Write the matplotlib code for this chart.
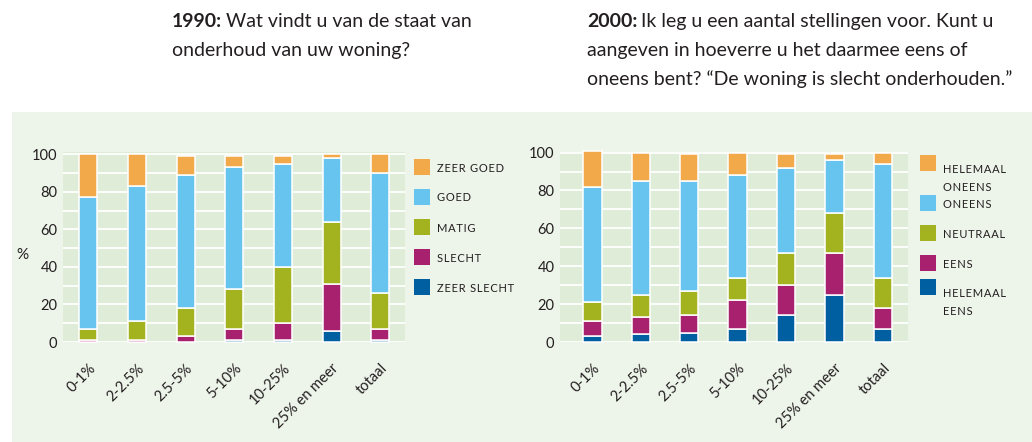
import numpy as np
import matplotlib.pyplot as plt
from matplotlib.patches import Rectangle

plt.rcParams['font.family'] = ['Lato', 'DejaVu Sans']

categories = ['0-1%', '2-2.5%', '2.5-5%', '5-10%', '10-25%', '25% en meer', 'totaal']

# 1990: staat van onderhoud (bottom to top)
zeer_slecht_90 = [0, 0, 0, 1, 1, 6, 1]
slecht_90 = [1, 1, 3, 6, 9, 25, 6]
matig_90 = [6, 10, 15, 21, 30, 33, 19]
goed_90 = [70, 72, 71, 65, 55, 34, 64]
zeer_goed_90 = [23, 17, 10, 6, 4, 2, 10]
labels_90 = ['ZEER GOED', 'GOED', 'MATIG', 'SLECHT', 'ZEER SLECHT']

# 2000: "De woning is slecht onderhouden." (bottom to top)
hel_eens_00 = [3, 4, 5, 7, 14, 25, 7]
eens_00 = [8, 9, 9, 15, 16, 22, 11]
neutraal_00 = [10, 12, 13, 12, 17, 21, 16]
oneens_00 = [61, 60, 58, 54, 45, 28, 60]
hel_oneens_00 = [19, 15, 14, 12, 7, 3, 6]
labels_00 = ['HELEMAAL\nONEENS', 'ONEENS', 'NEUTRAAL', 'EENS', 'HELEMAAL\nEENS']

colors = ['#f2a94a', '#66c4ef', '#a3b31f', '#a8216e', '#005fa0']  # top to bottom
panel_bg = '#edf4ea'
plot_bg = '#dfecd8'
text_col = '#231f20'

W, H = 1032, 442
fig = plt.figure(figsize=(W / 100, H / 100), dpi=100)
fig.patch.set_facecolor('white')
fig.patches.append(Rectangle((12 / W, 0), 1 - 12 / W, (H - 112) / H,
                             transform=fig.transFigure, facecolor=panel_bg,
                             edgecolor='none', zorder=-5))


def spaced(s):
    return '\n'.join('\u200a'.join(line) for line in s.split('\n'))


def draw_panel(rect, series, labels, xlim, ylim, width, leg_x, leg_ys):
    ax = fig.add_axes(rect)
    ax.set_facecolor(plot_bg)
    x = np.arange(len(categories))
    bottom = np.zeros(len(categories))
    # series given bottom to top, colors top to bottom
    for vals, col in zip(series, colors[::-1]):
        ax.bar(x, vals, width, bottom=bottom, color=col, edgecolor='white',
               linewidth=1.1, zorder=3, clip_on=False)
        bottom += np.array(vals)
    ax.set_xlim(*xlim)
    ax.set_ylim(*ylim)
    ax.set_yticks([0, 20, 40, 60, 80, 100])
    ax.set_yticks(np.arange(10, 100, 10), minor=True)
    ax.grid(axis='y', which='both', color='white', linewidth=1.3, zorder=1)
    ax.set_axisbelow(True)
    ax.tick_params(axis='y', which='both', length=0, pad=4, labelsize=10.5,
                   labelcolor=text_col)
    ax.set_xticks(x)
    ax.set_xticklabels(categories, rotation=45, ha='right', va='top',
                       rotation_mode='anchor', fontsize=10.5, color=text_col)
    ax.tick_params(axis='x', length=0, pad=14)
    for sp in ax.spines.values():
        sp.set_visible(False)
    for lab, col, ly in zip(labels, colors, leg_ys):
        fig.patches.append(Rectangle((leg_x / W, 1 - (ly + 8) / H), 16 / W, 16 / H,
                                     transform=fig.transFigure, facecolor=col,
                                     edgecolor='none', zorder=5))
        fig.text((leg_x + 23) / W, 1 - (ly + 1) / H, spaced(lab), fontsize=8,
                 color=text_col, va='top' if '\n' in lab else 'center',
                 ha='left', linespacing=1.75)
    return ax


ax1 = draw_panel([63 / W, 1 - 342 / H, 342 / W, 190 / H],
                 [zeer_slecht_90, slecht_90, matig_90, goed_90, zeer_goed_90],
                 labels_90, (-0.52, 6.51), (0, 101.2), 0.37,
                 414, [167, 197, 227, 257, 287])
ax1.text(-0.12, 0.46, '%', transform=ax1.transAxes, fontsize=11,
         color=text_col, ha='center', va='center')

ax2 = draw_panel([560 / W, 1 - 342 / H, 348 / W, 190 / H],
                 [hel_eens_00, eens_00, neutraal_00, oneens_00, hel_oneens_00],
                 labels_00, (-0.67, 6.52), (0, 100.3), 0.38,
                 920, [163, 203, 233, 263, 287])


def title(x, y, bold, lines):
    t = fig.text(x / W, 1 - y / H, bold, fontsize=14, fontweight='bold',
                 color=text_col, va='baseline')
    fig.canvas.draw()
    r = fig.canvas.get_renderer()
    bb = t.get_window_extent(r)
    fig.text(bb.x1 / fig.dpi / fig.get_figwidth() + 4 / W, 1 - y / H, lines[0],
             fontsize=14, color=text_col, va='baseline')
    for i, ln in enumerate(lines[1:], start=1):
        fig.text(x / W, 1 - (y + 29 * i) / H, ln, fontsize=14, color=text_col,
                 va='baseline')


title(172, 27, '1990:', ['Wat vindt u van de staat van', 'onderhoud van uw woning?'])
title(587, 27, '2000:', ['Ik leg u een aantal stellingen voor. Kunt u',
                         'aangeven in hoeverre u het daarmee eens of',
                         'oneens bent? \u201cDe woning is slecht onderhouden.\u201d'])

fig.savefig('out.png', dpi=100, facecolor=fig.get_facecolor())
